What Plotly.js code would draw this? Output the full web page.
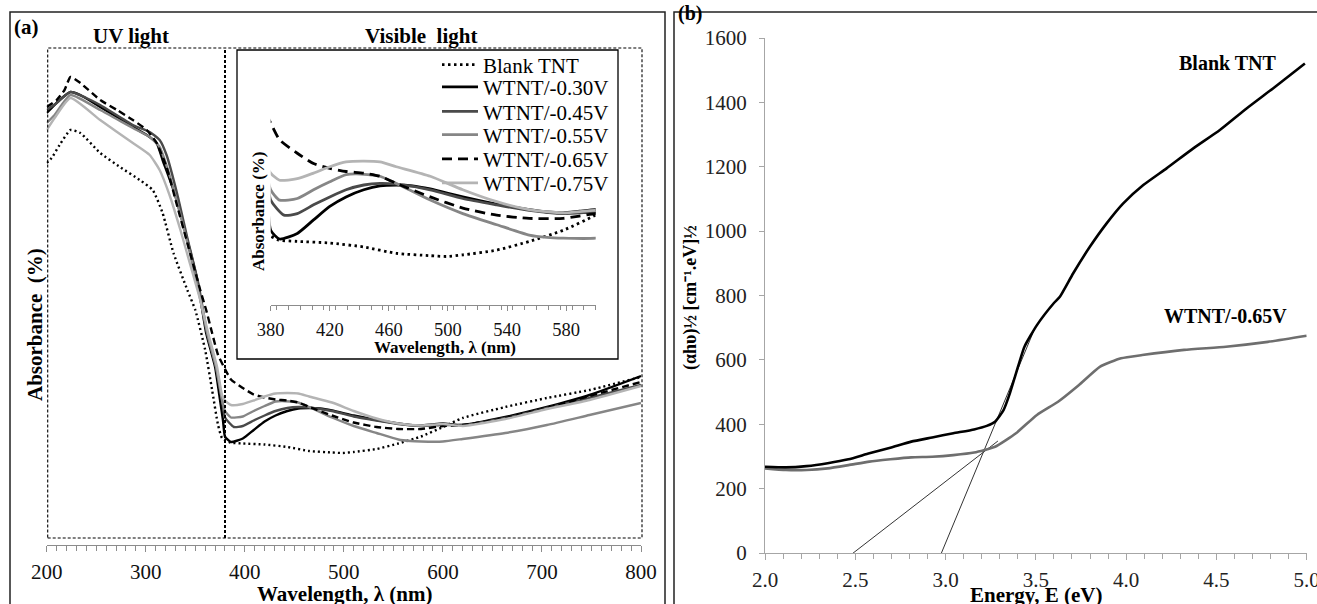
<!DOCTYPE html>
<html><head><meta charset="utf-8">
<script src="https://cdn.plot.ly/plotly-3.0.1.min.js"></script>
<style>html,body{margin:0;padding:0;background:#fff}#chart{width:1317px;height:604px}</style>
</head><body><div id="chart"></div><script>
// ---------- Panel (a): absorbance spectra (arbitrary absorbance units) ----------
const wlBlank = [200,205,213,224,234,254,274,294,307,317,328,342,350,360,367,373,377,385,398,420,443,465,488,499,510,533,555,578,600,620,663,705,748,800];
const abBlank = [75.0,76.0,78.6,81.6,81.0,77.0,74.2,71.6,69.6,65.0,57.0,49.6,45.6,37.6,29.6,22.6,20.0,19.1,18.9,18.7,18.2,17.4,17.1,17.0,17.2,17.8,18.9,20.3,22.2,24.0,26.2,28.0,29.6,32.2];

const wl030 = [200,206,213,224,234,254,271,287,301,311,317,328,342,352,361,370,375,378,380,386,398,409,420,431,443,454,465,476,488,510,533,555,567,578,589,600,620,663,705,748,800];
const ab030 = [85.0,86.2,87.6,89.2,88.6,86.2,84.2,82.2,80.6,79.0,75.6,69.6,59.6,51.6,41.0,34.2,27.6,23.5,20.3,19.2,19.9,21.6,23.3,24.5,25.4,25.9,26.0,25.9,25.5,24.5,23.6,22.9,22.6,22.5,22.7,22.9,22.6,24.2,26.2,28.6,32.4];

const wl045 = [200,210,224,240,254,287,304,314,321,332,342,353,362,371,377,380,389,398,409,420,431,443,454,465,488,510,533,555,578,600,620,663,705,748,800];
const ab045 = [85.6,87.0,89.2,88.0,86.6,82.6,81.2,79.6,76.6,68.6,60.0,51.0,41.0,34.2,27.6,24.1,22.2,22.4,23.5,24.5,25.4,26.0,26.2,26.1,25.4,24.3,23.5,22.8,22.4,22.6,22.6,24.0,26.0,28.0,30.6];

const wl055 = [200,208,224,254,287,304,314,324,335,345,353,362,371,377,380,386,398,409,420,431,438,454,465,488,510,533,555,567,578,600,620,663,705,748,800];
const ab055 = [83.0,84.6,88.6,85.6,82.0,80.2,78.2,72.6,64.6,56.6,49.6,41.0,34.2,27.6,25.4,24.1,24.3,25.4,26.4,27.3,27.4,27.1,26.2,24.1,22.4,21.0,19.7,19.4,19.3,19.3,19.8,21.0,22.6,24.6,27.0];

const wl065 = [200,210,218,224,234,254,271,287,301,311,321,332,342,355,361,367,373,380,386,398,409,420,431,443,454,465,488,510,533,555,578,600,620,663,705,748,800];
const ab065 = [86.2,87.6,89.6,92.2,91.0,87.6,85.6,83.6,81.6,79.0,74.2,66.2,59.0,49.6,45.6,41.0,36.6,33.8,31.7,30.0,28.7,28.1,27.7,27.5,27.1,26.2,24.5,23.1,22.2,21.8,21.8,22.4,22.6,24.0,26.0,28.4,31.2];

const wl075 = [200,208,224,254,287,304,314,324,335,345,355,363,372,377,380,386,398,409,420,431,443,454,465,488,510,533,555,578,600,620,663,705,748,800];
const ab075 = [81.6,84.0,88.0,83.6,79.0,76.6,73.6,68.6,61.6,54.6,47.6,41.0,34.2,28.6,27.5,26.6,26.8,27.5,28.3,28.9,29.0,28.9,28.3,27.1,25.4,23.9,22.9,22.5,22.8,22.4,23.8,25.8,27.6,30.4];

const seriesNames = ['Blank TNT','WTNT/-0.30V','WTNT/-0.45V','WTNT/-0.55V','WTNT/-0.65V','WTNT/-0.75V'];

// ---------- Panel (b): Tauc plot ----------
const eBlank = [2.0,2.115,2.23,2.347,2.462,2.578,2.694,2.81,2.926,3.043,3.158,3.228,3.274,3.321,3.356,3.39,3.437,3.506,3.599,3.633,3.707,3.8,3.892,3.984,4.095,4.224,4.372,4.519,4.667,4.815,4.99];
const tBlank = [268,266,270,279,291,310,327,346,359,372,384,395,408,444,496,558,641,708,776,796,869,952,1024,1086,1143,1195,1257,1314,1381,1444,1521];
const e065 = [2.0,2.115,2.23,2.347,2.462,2.578,2.694,2.81,2.926,3.043,3.158,3.274,3.39,3.506,3.623,3.739,3.856,3.972,4.089,4.321,4.553,4.785,5.0];
const t065 = [263,258,258,263,273,284,291,297,299,304,312,330,372,429,470,522,579,605,615,631,641,656,675];
const eTanBlank = [2.94, 3.495];
const tTanBlank = [-50, 699];
const eTan065 = [2.44, 3.29];
const tTan065 = [-21, 348];

const W = 1317, H = 604;
const px = v => v / W, py = v => 1 - v / H;
const FONT = 'Liberation Serif';

const styles = [
  {color:'#000000', mainDash:'2px,3px', insetDash:'2.5px,3.5px'},
  {color:'#000000', mainDash:'solid', insetDash:'solid'},
  {color:'#4a4a4a', mainDash:'solid', insetDash:'solid'},
  {color:'#868686', mainDash:'solid', insetDash:'solid'},
  {color:'#000000', mainDash:'7px,4px', insetDash:'10px,6px'},
  {color:'#b4b4b4', mainDash:'solid', insetDash:'solid'}
];
const xs = [wlBlank, wl030, wl045, wl055, wl065, wl075];
const ys = [abBlank, ab030, ab045, ab055, ab065, ab075];
const legendY = [65, 87.3, 111.7, 135, 159.3, 183.3];

const traces = [];
for (let i = 0; i < 6; i++) {
  traces.push({type:'scatter', mode:'lines', x:xs[i], y:ys[i], xaxis:'x', yaxis:'y',
    line:{color:styles[i].color, width:2.4, dash:styles[i].mainDash, shape:'spline', smoothing:0.5},
    showlegend:false, hoverinfo:'skip'});
}
for (let i = 0; i < 6; i++) {
  traces.push({type:'scatter', mode:'lines', x:xs[i], y:ys[i], xaxis:'x2', yaxis:'y2', name:seriesNames[i],
    legend: i === 0 ? 'legend' : 'legend' + (i + 1),
    line:{color:styles[i].color, width:2.8, dash:styles[i].insetDash, shape:'spline', smoothing:0.6},
    showlegend:true, hoverinfo:'skip'});
}
traces.push({type:'scatter', mode:'lines', x:eTanBlank, y:tTanBlank, xaxis:'x3', yaxis:'y3', line:{color:'#333', width:1}, showlegend:false});
traces.push({type:'scatter', mode:'lines', x:eTan065, y:tTan065, xaxis:'x3', yaxis:'y3', line:{color:'#333', width:1}, showlegend:false});
traces.push({type:'scatter', mode:'lines', x:e065, y:t065, xaxis:'x3', yaxis:'y3', line:{color:'#6e6e6e', width:2.6, shape:'spline', smoothing:0.5}, showlegend:false});
traces.push({type:'scatter', mode:'lines', x:eBlank, y:tBlank, xaxis:'x3', yaxis:'y3', line:{color:'#000', width:2.6, shape:'spline', smoothing:0.5}, showlegend:false});

const axGrey = '#8c8c8c';
const hiddenY = {showline:false, showticklabels:false, ticks:'', showgrid:false, zeroline:false, fixedrange:true};
const crossX = (over, anchor, range, dtick, len) => ({overlaying:over, anchor:anchor, range:range, dtick:dtick, tick0:range[0],
  ticks:'inside', ticklen:len, tickcolor:axGrey, showticklabels:false, showline:false, showgrid:false, zeroline:false});

const layout = {
  width:W, height:H, margin:{l:0,r:0,t:0,b:0},
  paper_bgcolor:'#ffffff', plot_bgcolor:'rgba(0,0,0,0)',
  font:{family:FONT},
  xaxis:{domain:[px(46.7), px(641)], anchor:'y', range:[200,800], dtick:100, tick0:200,
    showline:true, linecolor:axGrey, linewidth:1, ticks:'outside', ticklen:6, tickcolor:axGrey,
    minor:{dtick:10, ticks:'outside', ticklen:5, tickcolor:axGrey},
    showgrid:false, zeroline:false, ticklabelstandoff:2, ticklabeloverflow:'allow',
    tickfont:{family:FONT, size:21, color:'#111'}},
  yaxis:Object.assign({domain:[py(545), py(48)], anchor:'x', range:[-1.4, 98]}, hiddenY),
  xaxis2:{domain:[px(270.7), px(595.7)], anchor:'y2', range:[380,600], dtick:40, tick0:380,
    showline:true, linecolor:axGrey, linewidth:1, ticks:'outside', ticklen:5, tickcolor:axGrey,
    minor:{dtick:8, ticks:'outside', ticklen:4, tickcolor:axGrey},
    showgrid:false, zeroline:false, ticklabelstandoff:3,
    tickfont:{family:FONT, size:18.5, color:'#111'}},
  yaxis2:Object.assign({domain:[py(305), py(60)], anchor:'x2', range:[10.89, 41.74]}, hiddenY),
  xaxis3:{domain:[px(765), px(1306.7)], anchor:'y3', range:[2,5], dtick:0.5, tick0:2, tickformat:'.1f',
    showline:true, linecolor:'#a6a6a6', linewidth:1, ticks:'outside', ticklen:6, tickcolor:'#a6a6a6',
    minor:{dtick:0.1, ticks:'outside', ticklen:5, tickcolor:'#a6a6a6'},
    showgrid:false, zeroline:false, ticklabelstandoff:2, ticklabeloverflow:'allow',
    tickfont:{family:FONT, size:21, color:'#222'}},
  yaxis3:{domain:[py(553), py(38)], anchor:'x3', range:[0,1600], dtick:200, tick0:0,
    showline:true, linecolor:'#a6a6a6', linewidth:1, ticks:'outside', ticklen:5, tickcolor:'#a6a6a6',
    showgrid:false, zeroline:false, ticklabelstandoff:8,
    tickfont:{family:FONT, size:21, color:'#222'}},
  xaxis4:crossX('x', 'y', [200,800], 100, 6),
  xaxis5:crossX('x2', 'y2', [380,600], 40, 6),
  xaxis6:Object.assign(crossX('x3', 'y3', [2,5], 0.5, 5), {tickcolor:'#a6a6a6'}),
  shapes:[
    {type:'rect', xref:'paper', yref:'paper', x0:px(237), x1:px(618), y0:py(359), y1:py(50),
      fillcolor:'#ffffff', line:{color:'#000', width:1.3}, layer:'below'},
    {type:'rect', xref:'paper', yref:'paper', x0:px(10), x1:px(665), y0:-0.1, y1:py(12),
      line:{color:'#222', width:1.5}},
    {type:'rect', xref:'paper', yref:'paper', x0:px(674), x1:1.1, y0:-0.1, y1:py(12),
      line:{color:'#222', width:1.5}},
    {type:'rect', xref:'paper', yref:'paper', x0:px(47.7), x1:px(642), y0:py(538), y1:py(48),
      line:{color:'#000', width:1.1, dash:'3px,2px'}},
    {type:'line', xref:'x', yref:'paper', x0:380, x1:380, y0:py(538), y1:py(48),
      line:{color:'#000', width:2, dash:'3px,2px'}}
  ],
  annotations:[]
};

for (let i = 0; i < 6; i++) {
  layout[i === 0 ? 'legend' : 'legend' + (i + 1)] = {
    x:px(437), xanchor:'left', y:py(legendY[i]), yanchor:'middle',
    font:{family:FONT, size:21, color:'#000'}, bgcolor:'rgba(0,0,0,0)', borderwidth:0,
    itemwidth:36, tracegroupgap:0
  };
}

function ann(text, x, y, size, extra) {
  return Object.assign({text:'<b>' + text + '</b>', xref:'paper', yref:'paper', x:px(x), y:py(y),
    xanchor:'center', yanchor:'middle', showarrow:false,
    font:{family:FONT, size:size, color:'#000'}}, extra || {});
}
layout.annotations.push(
  ann('(a)', 26, 27, 21),
  ann('UV light', 131, 36, 21),
  ann('Visible\u00a0 light', 421, 36, 21),
  ann('Wavelength, λ (nm)', 445, 348, 17),
  ann('Absorbance (%)', 258, 212, 17, {textangle:-90}),
  ann('Wavelength, λ (nm)', 344, 594, 21),
  ann('Absorbance\u00a0 (%)', 35, 325, 21, {textangle:-90}),
  ann('(b)', 690, 13, 20),
  ann('Blank TNT', 1228, 63, 20),
  ann('WTNT/-0.65V', 1225, 316, 20),
  ann('(αhυ)½ [cm\u207B\u00B9.eV]½', 690, 298, 18, {textangle:-90}),
  ann('Energy, E (eV)', 1036, 595, 21)
);

Plotly.newPlot('chart', traces, layout, {staticPlot:true, displayModeBar:false});
</script></body></html>
